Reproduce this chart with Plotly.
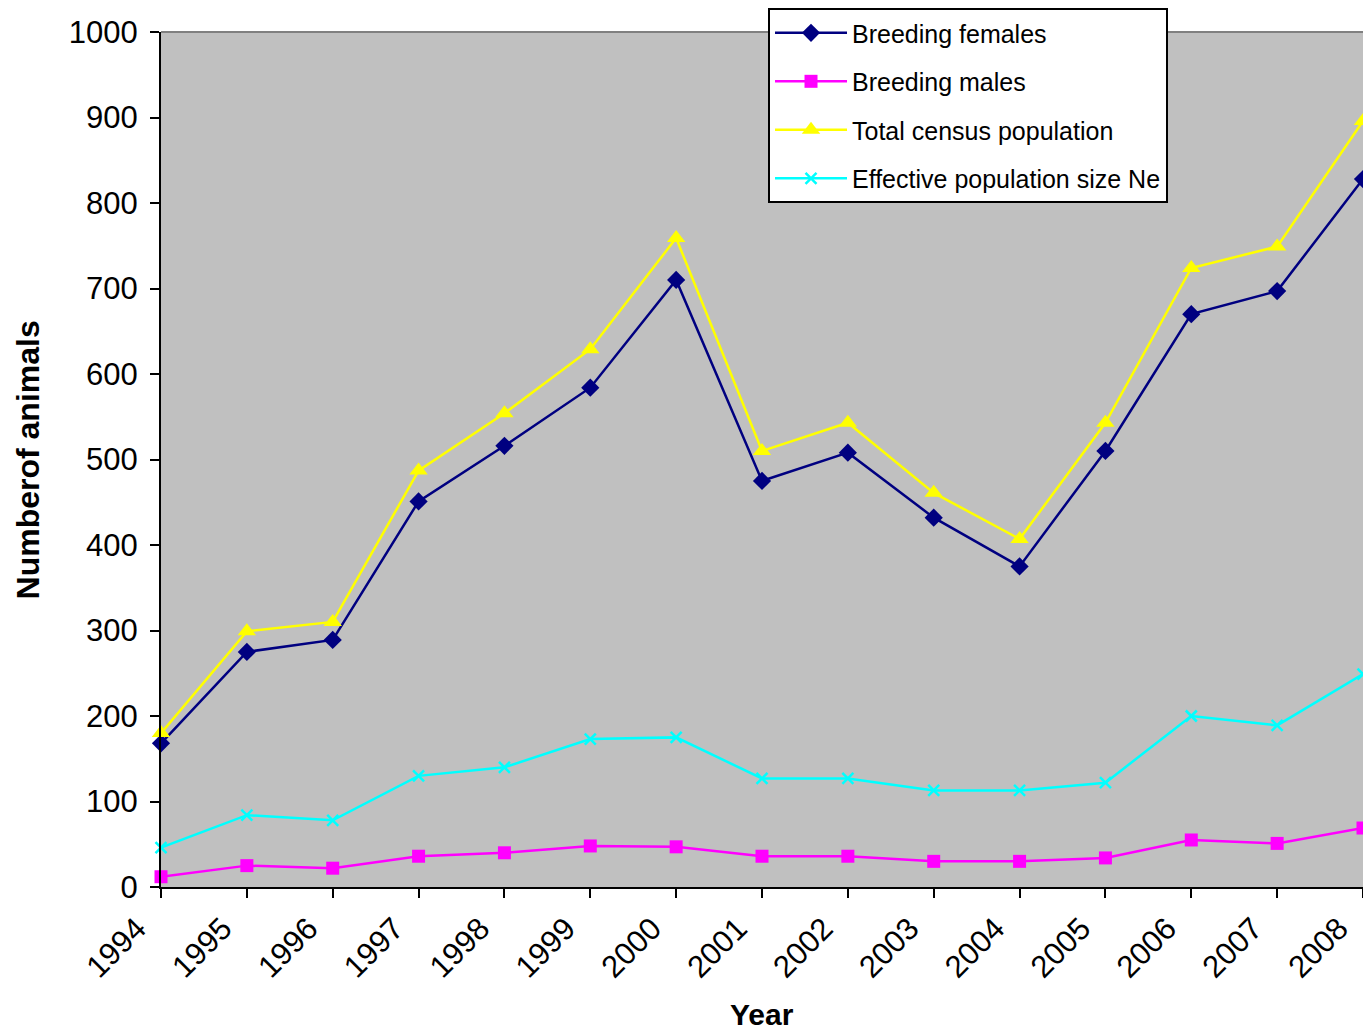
import plotly.graph_objects as go

years = list(range(1994, 2009))
breeding_females = [168, 275, 289, 451, 516, 584, 710, 475, 508, 432, 375, 510, 670, 697, 828]
breeding_males = [12, 25, 22, 36, 40, 48, 47, 36, 36, 30, 30, 34, 55, 51, 69]
total_census = [180, 299, 310, 487, 554, 629, 759, 510, 543, 461, 407, 543, 724, 749, 896]
effective_ne = [46, 84, 78, 130, 140, 173, 175, 127, 127, 113, 113, 122, 200, 189, 249]

FONT = "Liberation Sans, Arial, sans-serif"

fig = go.Figure()
series = [
    ("Breeding females", breeding_females, "#000080", "diamond", 14),
    ("Breeding males", breeding_males, "#FF00FF", "square", 13),
    ("Total census population", total_census, "#FFFF00", "triangle-up", 16),
    ("Effective population size Ne", effective_ne, "#00FFFF", "x-thin", 11),
]
for i, (name, vals, col, sym, size) in enumerate(series):
    fig.add_trace(go.Scatter(
        x=years, y=vals, name=name, mode="lines+markers",
        line=dict(color=col, width=2.5),
        marker=dict(symbol=sym, size=size, color=col,
                    line=dict(color=col, width=2.5) if sym == "x-thin" else dict(width=0)),
        cliponaxis=False, legendgroup=f"g{i}",
    ))

fig.update_layout(
    width=1363, height=1034,
    margin=dict(l=161, r=0, t=32, b=147),
    paper_bgcolor="white", plot_bgcolor="#C0C0C0",
    font=dict(family=FONT, color="black"),
    showlegend=True,
    legend=dict(
        x=0.505, y=1.028, xanchor="left", yanchor="top",
        bgcolor="white", bordercolor="black", borderwidth=2,
        font=dict(size=25, family=FONT), tracegroupgap=13, itemwidth=72,
    ),
    xaxis=dict(
        range=[1994, 2008], tickmode="array", tickvals=years,
        ticktext=[str(y) for y in years], tickangle=-45,
        showgrid=False, zeroline=False, showline=True, linecolor="black", linewidth=2,
        ticks="outside", ticklen=9, tickwidth=2, tickcolor="black",
        tickfont=dict(size=31, family=FONT),
        ticklabelshift=-24, ticklabeloverflow="allow",
    ),
    yaxis=dict(
        range=[0, 1000], dtick=100, showgrid=False, zeroline=False,
        showline=True, linecolor="black", linewidth=2,
        ticks="outside", ticklen=9, tickwidth=2, tickcolor="black",
        tickfont=dict(size=31, family=FONT), ticklabelstandoff=6,
    ),
    shapes=[dict(type="line", xref="paper", yref="paper", x0=0, x1=1, y0=1, y1=1,
                 line=dict(color="#808080", width=2))],
    annotations=[
        dict(text="<b>Year</b>", xref="paper", yref="paper", x=0.5, y=-0.149,
             xanchor="center", yanchor="middle", showarrow=False, borderpad=0,
             font=dict(size=30, family=FONT)),
        dict(text="<b>Numberof animals</b>", xref="paper", yref="paper", x=-0.1107, y=0.5,
             xanchor="center", yanchor="middle", showarrow=False, textangle=-90,
             font=dict(size=32, family=FONT)),
    ],
)

fig.write_html("out.html")
